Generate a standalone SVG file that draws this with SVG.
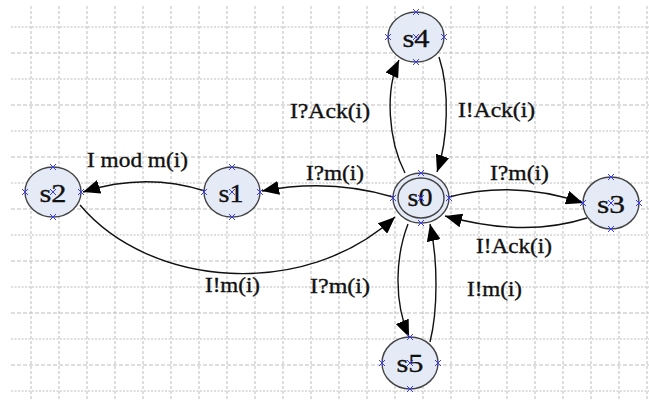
<svg xmlns="http://www.w3.org/2000/svg" width="649" height="401" viewBox="0 0 649 401">
<defs>
<style>
.gv{stroke:#bdbdbd;stroke-width:1;stroke-dasharray:3,2;fill:none}
.gh{stroke:#bdbdbd;stroke-width:1;stroke-dasharray:2,1.5;fill:none}
.gh2{stroke:#bdbdbd;stroke-width:1;stroke-dasharray:4,2;fill:none}
.node{fill:#e4eaf6;stroke:#444;stroke-width:1.4}
.nt{font-family:"Liberation Serif","Times New Roman",serif;font-size:25px;fill:#111;stroke:#111;stroke-width:0.3;text-anchor:middle}
.lbl{font-family:"Liberation Serif","Times New Roman",serif;font-size:21px;fill:#111;stroke:#111;stroke-width:0.35}
.edge{fill:none;stroke:#111;stroke-width:1.4}
.x{stroke:#3a3aff;stroke-width:1}
</style>
<marker id="arr" markerUnits="userSpaceOnUse" markerWidth="18" markerHeight="14" refX="17" refY="7" orient="auto">
<path d="M0,0 L17,7 L0,14 Z" fill="#000"/>
</marker>
<g id="cross"><path class="x" d="M-3,-3 L3,3 M-3,3 L3,-3"/></g>
</defs>
<rect width="649" height="401" fill="#fff"/>
<g id="grid">
<path class="gv" d="M31,6V401M59,6V401M87,6V401M115,6V401M143,6V401M171,6V401M199,6V401M227,6V401M255,6V401M283,6V401M311,6V401M339,6V401M367,6V401M395,6V401M423,6V401M451,6V401M479,6V401M507,6V401M535,6V401M563,6V401M591,6V401M619,6V401M647,6V401"/>
<path class="gh" d="M11,27H649M11,79H649M11,131H649M11,183H649M11,235H649M11,287H649M11,339H649M11,391H649"/>
<path class="gh2" d="M11,53H649M11,105H649M11,157H649M11,209H649M11,261H649M11,313H649M11,365H649"/>
</g>
<g id="connectors">
<path class="edge" d="M393,197 Q330,178 262,191" marker-end="url(#arr)"/>
<path class="edge" d="M205,191 Q145,172 83,192" marker-end="url(#arr)"/>
<path class="edge" d="M80,205 C150,288 305,300 395,217" marker-end="url(#arr)"/>
<path class="edge" d="M405,173 C388,140 385,90 399,60" marker-end="url(#arr)"/>
<path class="edge" d="M439,57 C450,90 448,140 437,172" marker-end="url(#arr)"/>
<path class="edge" d="M449,197 Q515,180 583,203" marker-end="url(#arr)"/>
<path class="edge" d="M587,218 Q525,238 445,216" marker-end="url(#arr)"/>
<path class="edge" d="M408,224 C396,255 393,300 409,337" marker-end="url(#arr)"/>
<path class="edge" d="M430,342 C438,310 438,260 430,224" marker-end="url(#arr)"/>
</g>
<g id="labels">
<text class="lbl" x="290" y="118" textLength="80" lengthAdjust="spacingAndGlyphs">I?Ack(i)</text>
<text class="lbl" x="458" y="117" textLength="77" lengthAdjust="spacingAndGlyphs">I!Ack(i)</text>
<text class="lbl" x="87" y="167" textLength="101" lengthAdjust="spacingAndGlyphs">I mod m(i)</text>
<text class="lbl" x="306" y="180" textLength="58" lengthAdjust="spacingAndGlyphs">I?m(i)</text>
<text class="lbl" x="490" y="180" textLength="59" lengthAdjust="spacingAndGlyphs">I?m(i)</text>
<text class="lbl" x="476" y="253" textLength="76" lengthAdjust="spacingAndGlyphs">I!Ack(i)</text>
<text class="lbl" x="467" y="296" textLength="55" lengthAdjust="spacingAndGlyphs">I!m(i)</text>
<text class="lbl" x="205" y="292" textLength="55" lengthAdjust="spacingAndGlyphs">I!m(i)</text>
<text class="lbl" x="310" y="293" textLength="60" lengthAdjust="spacingAndGlyphs">I?m(i)</text>
</g>
<g id="s0">
<ellipse class="node" cx="421" cy="198" rx="28" ry="25"/>
<ellipse class="node" cx="421" cy="198" rx="23" ry="20"/>
<text class="nt" x="420" y="206" textLength="25" lengthAdjust="spacingAndGlyphs">s0</text>
<use href="#cross" x="421" y="173"/><use href="#cross" x="421" y="223"/><use href="#cross" x="393" y="198"/><use href="#cross" x="449" y="198"/><use href="#cross" x="421" y="198"/>
</g>
<g id="s1">
<ellipse class="node" cx="232" cy="192" rx="28" ry="25"/>
<text class="nt" x="231" y="202" textLength="25" lengthAdjust="spacingAndGlyphs">s1</text>
<use href="#cross" x="232" y="167"/><use href="#cross" x="232" y="217"/><use href="#cross" x="204" y="192"/><use href="#cross" x="260" y="192"/><use href="#cross" x="232" y="192"/>
</g>
<g id="s2">
<ellipse class="node" cx="53" cy="192" rx="28" ry="25"/>
<text class="nt" x="53" y="202" textLength="27" lengthAdjust="spacingAndGlyphs">s2</text>
<use href="#cross" x="53" y="167"/><use href="#cross" x="53" y="217"/><use href="#cross" x="25" y="192"/><use href="#cross" x="81" y="192"/><use href="#cross" x="53" y="192"/>
</g>
<g id="s3">
<ellipse class="node" cx="611" cy="203" rx="28" ry="26"/>
<text class="nt" x="611" y="213" textLength="28" lengthAdjust="spacingAndGlyphs">s3</text>
<use href="#cross" x="611" y="177"/><use href="#cross" x="611" y="229"/><use href="#cross" x="583" y="203"/><use href="#cross" x="639" y="203"/><use href="#cross" x="611" y="203"/>
</g>
<g id="s4">
<ellipse class="node" cx="416" cy="37" rx="28" ry="25"/>
<text class="nt" x="416" y="47" textLength="27" lengthAdjust="spacingAndGlyphs">s4</text>
<use href="#cross" x="416" y="12"/><use href="#cross" x="416" y="62"/><use href="#cross" x="388" y="37"/><use href="#cross" x="444" y="37"/><use href="#cross" x="416" y="37"/>
</g>
<g id="s5">
<ellipse class="node" cx="410" cy="363" rx="28" ry="26"/>
<text class="nt" x="410" y="372" textLength="27" lengthAdjust="spacingAndGlyphs">s5</text>
<use href="#cross" x="410" y="337"/><use href="#cross" x="410" y="389"/><use href="#cross" x="382" y="363"/><use href="#cross" x="438" y="363"/><use href="#cross" x="410" y="363"/>
</g>
</svg>
